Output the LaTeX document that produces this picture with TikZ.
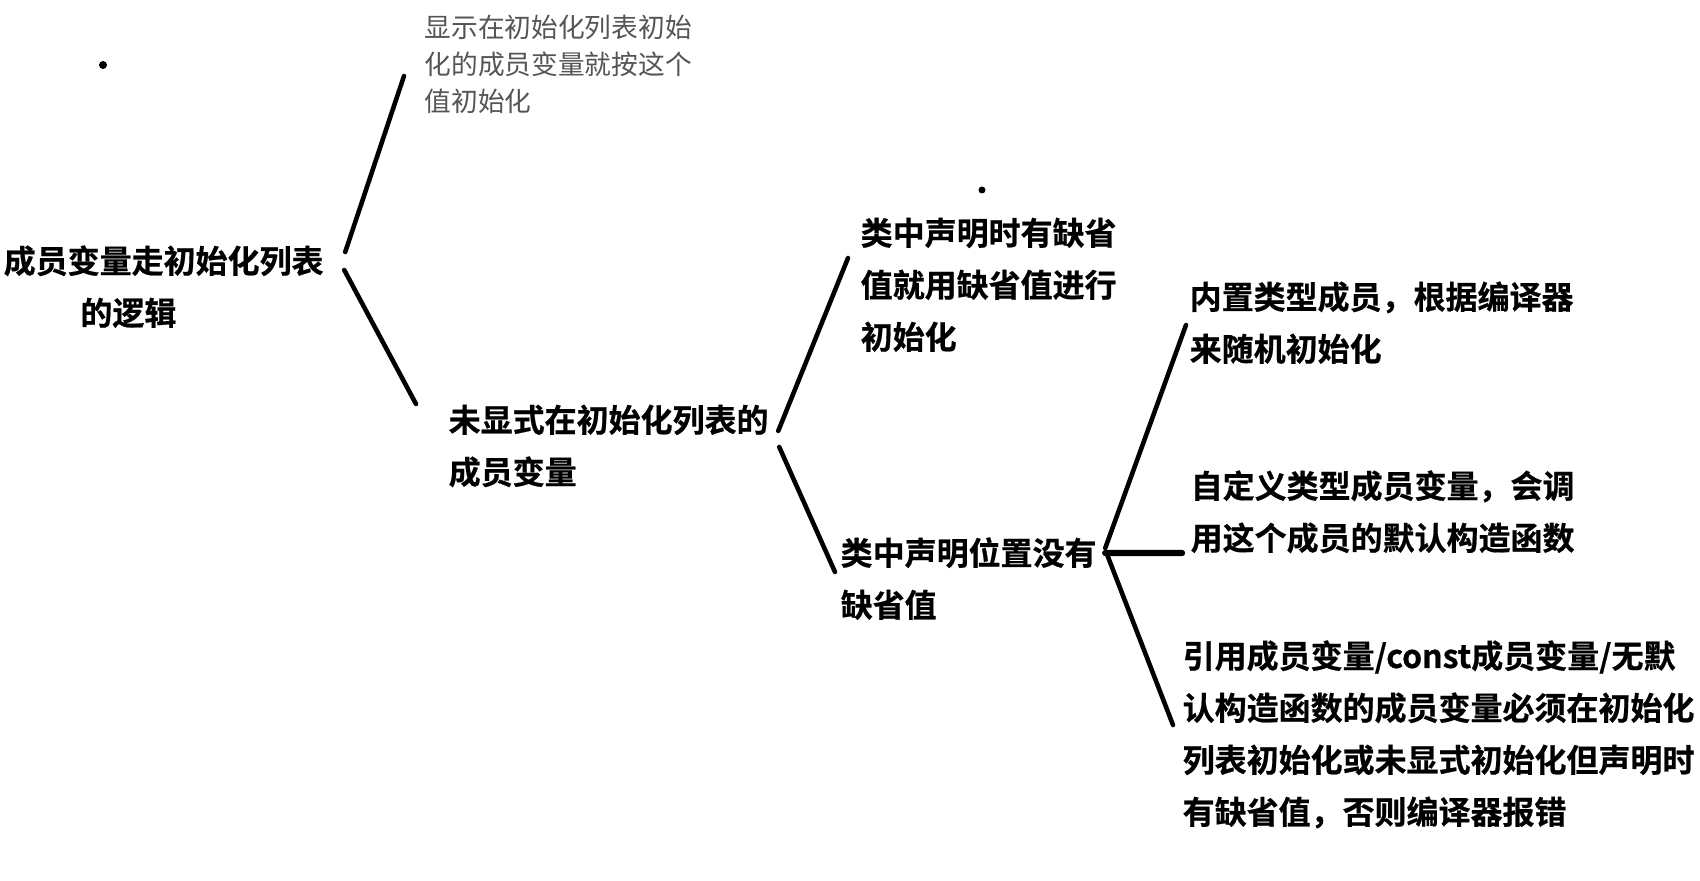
\documentclass[tikz,border=0pt]{standalone}
\usepackage{fontspec}
\setmainfont{Noto Sans CJK SC}[BoldFont={Noto Sans CJK SC Bold}, BoldFeatures={FakeBold=0.6}]
\definecolor{notegray}{HTML}{555555}

\begin{document}
\begin{tikzpicture}[
  item/.style={inner sep=0pt, anchor=base west, align=left,
               font=\fontsize{9.1}{14.8}\selectfont\bfseries},
  note/.style={inner sep=0pt, anchor=base west, align=left, text=notegray,
               font=\fontsize{7.6}{10.6}\selectfont},
  branch/.style={line width=1.3pt, line cap=round}
]
\useasboundingbox (0,0) rectangle (17,8.8);

% Root (left)
\node[item] (root) at (0.03,5.55) {成员变量走初始化列表\\\hspace*{2.4em}的逻辑};

% Second level
\node[note] (shown)    at (4.24,7.68) {显示在初始化列表初始\\化的成员变量就按这个\\值初始化};
\node[item] (unlisted) at (4.48,3.96) {未显式在初始化列表的\\成员变量};

% Third level
\node[item] (hasdef) at (8.60,5.31) {类中声明时有缺省\\值就用缺省值进行\\初始化};
\node[item] (nodef)  at (8.40,2.63) {类中声明位置没有\\缺省值};

% Fourth level
\node[item] (builtin)  at (11.89,5.19) {内置类型成员，根据编译器\\来随机初始化};
\node[item] (custom)   at (11.90,3.30) {自定义类型成员变量，会调\\用这个成员的默认构造函数};
\node[item] (mustinit) at (11.82,0.56) {引用成员变量/const成员变量/无默\\认构造函数的成员变量必须在初始化\\列表初始化或未显式初始化但声明时\\有缺省值，否则编译器报错};

% stray dots
\fill (1.03,8.15) circle (0.04);
\fill (9.82,6.90) circle (0.035);

% Branches
\draw[branch] ([shift={(0.21,0.73)}]root.base east) -- ([shift={(-0.20,0.36)}]shown.base west);
\draw[branch] ([shift={(0.20,0.55)}]root.base east) -- ([shift={(-0.32,0.80)}]unlisted.base west);

\draw[branch] ([shift={(0.09,0.53)}]unlisted.base east) -- ([shift={(-0.12,0.91)}]hasdef.base west);
\draw[branch] ([shift={(0.10,0.37)}]unlisted.base east) -- ([shift={(-0.05,0.45)}]nodef.base west);

\draw[branch] ([shift={(0.08,0.69)}]nodef.base east) -- ([shift={(-0.03,0.36)}]builtin.base west);
\draw[branch, line width=1.8pt] ([shift={(0.08,0.64)}]nodef.base east) -- ([shift={(-0.08,-0.03)}]custom.base west);
\draw[branch] ([shift={(0.10,0.62)}]nodef.base east) -- ([shift={(-0.09,0.99)}]mustinit.base west);

\end{tikzpicture}
\end{document}
